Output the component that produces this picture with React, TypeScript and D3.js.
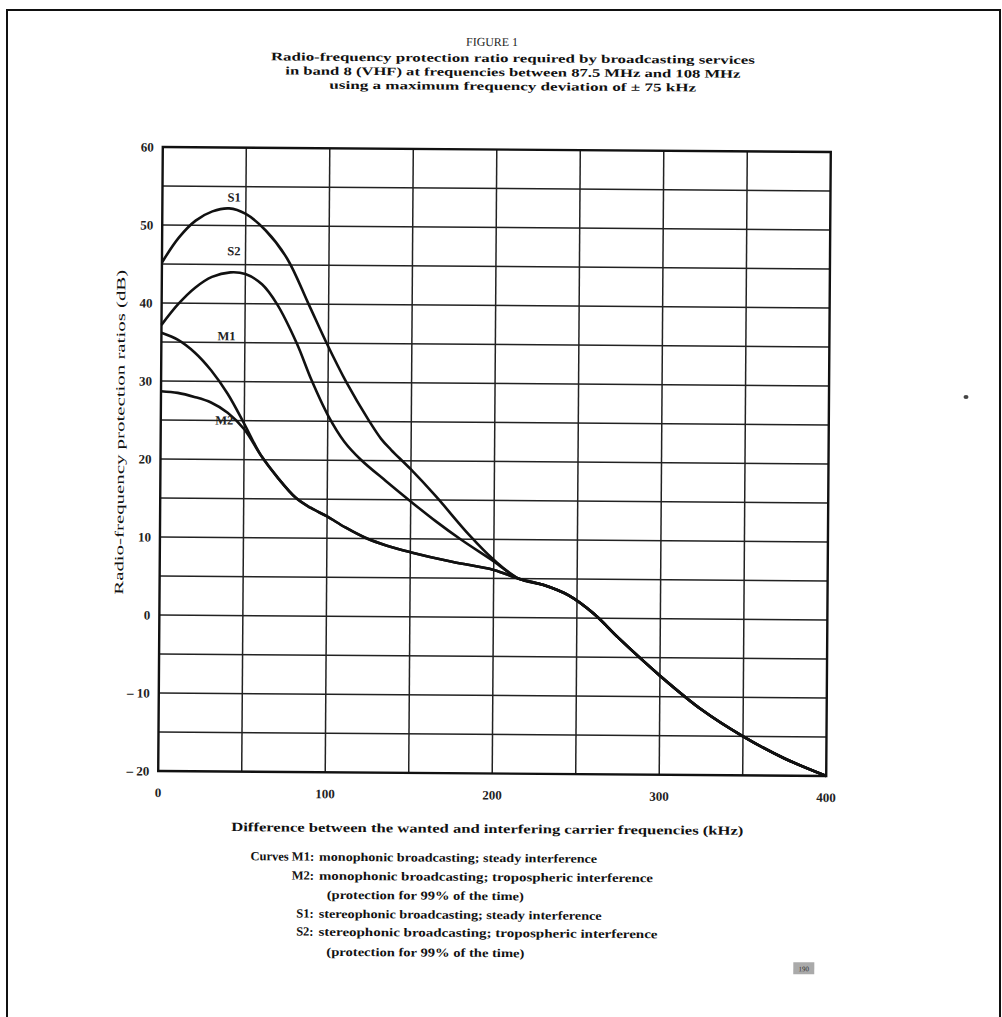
import React from "react";
import * as d3 from "d3";

// ---- data (kHz, dB) ----
const S1_x = [0, 10, 20, 30, 40, 50, 62, 75, 88, 99, 111, 125, 132, 138, 150, 165, 185, 200, 215];
const S1_y = [45.2, 48.4, 50.6, 51.8, 52.2, 51.5, 49.4, 45.8, 40, 35, 30, 25, 22.8, 21.4, 18.9, 15.5, 10.6, 7.4, 5];

const S2_x = [0, 10, 20, 30, 41, 50, 60, 69, 81, 90, 100, 110, 120, 135, 150, 165, 180, 200, 215];
const S2_y = [37.2, 39.9, 42, 43.4, 44, 43.8, 42.5, 40, 35, 30.3, 25.8, 22.4, 20.1, 17.4, 14.8, 12.3, 10, 7.2, 5];

const M1_x = [0, 10, 20, 30, 40, 50];
const M1_y = [36.2, 35.3, 33.7, 31.4, 28.4, 24.6];

const M2_x = [0, 10, 20, 30, 40, 50];
const M2_y = [28.7, 28.5, 28, 27.3, 26, 23.9];

const Mtail_x = [60, 70, 81, 90, 100, 111, 123, 136, 150, 175, 200];
const Mtail_y = [20.6, 17.8, 15.2, 13.9, 12.8, 11.4, 10.1, 9.1, 8.3, 7.1, 6.1];

const tail_x = [215, 230, 245, 260, 275, 300, 325, 350, 375, 400];
const tail_y = [5, 4.2, 2.9, 0.6, -2.5, -7.3, -11.6, -15, -17.8, -20];

const xTickLabels = ["0", "100", "200", "300", "400"];
const xTickValues = [0, 100, 200, 300, 400];
const yTickValues = [60, 50, 40, 30, 20, 10, 0, -10, -20];
const yTickLabels = ["60", "50", "40", "30", "20", "10", "0", "– 10", "– 20"];

const curveLabels = ["S1", "S2", "M1", "M2"];
const curveLabelX = [43, 43, 39, 38];
const curveLabelY = [53.6, 46.7, 35.8, 25];

const titleLines = [
  "Radio-frequency protection ratio required by broadcasting services",
  "in band 8 (VHF) at frequencies between 87.5 MHz and 108 MHz",
  "using a maximum frequency deviation of ± 75 kHz",
];

const legendKeys = ["Curves M1:", "M2:", "", "S1:", "S2:", ""];
const legendTexts = [
  "monophonic broadcasting; steady interference",
  "monophonic broadcasting; tropospheric interference",
  "(protection for 99% of the time)",
  "stereophonic broadcasting; steady interference",
  "stereophonic broadcasting; tropospheric interference",
  "(protection for 99% of the time)",
];

const zip = (xs: number[], ys: number[]) => xs.map((x, i) => [x, ys[i]] as [number, number]);

export default function App() {
  const W = 1002, H = 1017;
  const L = 160.5, R = 828.5, T = 149.5, B = 773.5;
  const x = d3.scaleLinear().domain([0, 400]).range([L, R]);
  const y = d3.scaleLinear().domain([-20, 60]).range([B, T]);
  const line = d3.line<[number, number]>().x(d => x(d[0])).y(d => y(d[1])).curve(d3.curveCatmullRom.alpha(0.5));

  const series = [
    [...zip(S1_x, S1_y), ...zip(tail_x, tail_y).slice(1)],
    [...zip(S2_x, S2_y), ...zip(tail_x, tail_y).slice(1)],
    [...zip(M1_x, M1_y), ...zip(Mtail_x, Mtail_y), ...zip(tail_x, tail_y)],
    [...zip(M2_x, M2_y), ...zip(Mtail_x, Mtail_y), ...zip(tail_x, tail_y)],
  ];

  const gridX = d3.range(50, 400, 50);
  const gridY = d3.range(-15, 60, 5);
  const font = "'Liberation Serif', 'Times New Roman', serif";
  const cx = (L + R) / 2, cy = (T + B) / 2;
  const legendY = [862, 881, 900, 919, 937, 957];

  return (
    <svg width={W} height={H} style={{ position: "absolute", left: 0, top: 0, background: "#fff" }} fontFamily={font}>
      <rect x={0} y={0} width={W} height={H} fill="#fff" />
      <rect x={7} y={10} width={993} height={1030} fill="none" stroke="#111" strokeWidth={2} />
      <ellipse cx={966} cy={397} rx={2.5} ry={2} fill="#444" />
      <g transform={`rotate(0.42 ${cx} ${cy})`}>
        <text x={489} y={46} textAnchor="middle" fontSize={12} fill="#222" textLength={52} lengthAdjust="spacingAndGlyphs">FIGURE 1</text>
        {titleLines.map((t, i) => (
          <text key={i} x={510} y={62 + i * 14} textAnchor="middle" fontSize={11.5} fontWeight="bold" fill="#111"
            textLength={[484, 455, 367][i]} lengthAdjust="spacingAndGlyphs">{t}</text>
        ))}

        {gridX.map(v => (
          <line key={"gx" + v} x1={x(v)} x2={x(v)} y1={T} y2={B} stroke="#222" strokeWidth={1.5} />
        ))}
        {gridY.map(v => (
          <line key={"gy" + v} x1={L} x2={R} y1={y(v)} y2={y(v)} stroke="#222" strokeWidth={1.5} />
        ))}
        <rect x={L} y={T} width={R - L} height={B - T} fill="none" stroke="#111" strokeWidth={2.4} />

        {series.map((s, i) => (
          <path key={i} d={line(s) || ""} fill="none" stroke="#111" strokeWidth={2.6} strokeLinejoin="round" />
        ))}

        {curveLabels.map((t, i) => (
          <text key={t} x={x(curveLabelX[i])} y={y(curveLabelY[i])} textAnchor="middle" dominantBaseline="central"
            fontSize={12.5} fontWeight="bold" fill="#222">{t}</text>
        ))}

        {yTickValues.map((v, i) => (
          <text key={"yt" + v} x={L - 9} y={y(v)} textAnchor="end" dominantBaseline="central" fontSize={13} fill="#222" fontWeight="bold">{yTickLabels[i]}</text>
        ))}
        {xTickValues.map((v, i) => (
          <text key={"xt" + v} x={x(v)} y={B + 26} textAnchor="middle" fontSize={13} fill="#222" fontWeight="bold">{xTickLabels[i]}</text>
        ))}

        <text transform={`translate(120 435) rotate(-90)`} textAnchor="middle" dominantBaseline="central" fontSize={12.5} fill="#111"
          textLength={325} lengthAdjust="spacingAndGlyphs">Radio-frequency protection ratios (dB)</text>
        <text x={490} y={833} textAnchor="middle" fontSize={12.5} fontWeight="bold" fill="#111" textLength={512} lengthAdjust="spacingAndGlyphs">
          Difference between the wanted and interfering carrier frequencies (kHz)
        </text>

        {legendKeys.map((k, i) => (
          k ? <text key={"lk" + i} x={317} y={legendY[i]} textAnchor="end" fontSize={12.5} fontWeight="bold" fill="#111">{k}</text> : null
        ))}
        {legendTexts.map((t, i) => (
          <text key={"lt" + i} x={i === 2 || i === 5 ? 330 : 322} y={legendY[i]} fontSize={12} fontWeight="bold" fill="#111"
            textLength={[278, 334, 197, 283, 339, 198][i]} lengthAdjust="spacingAndGlyphs">{t}</text>
        ))}
        <rect x={797} y={960} width={21} height={12} fill="#aaa" />
        <text x={807.5} y={969} textAnchor="middle" fontSize={7} fill="#333">190</text>
      </g>
    </svg>
  );
}
